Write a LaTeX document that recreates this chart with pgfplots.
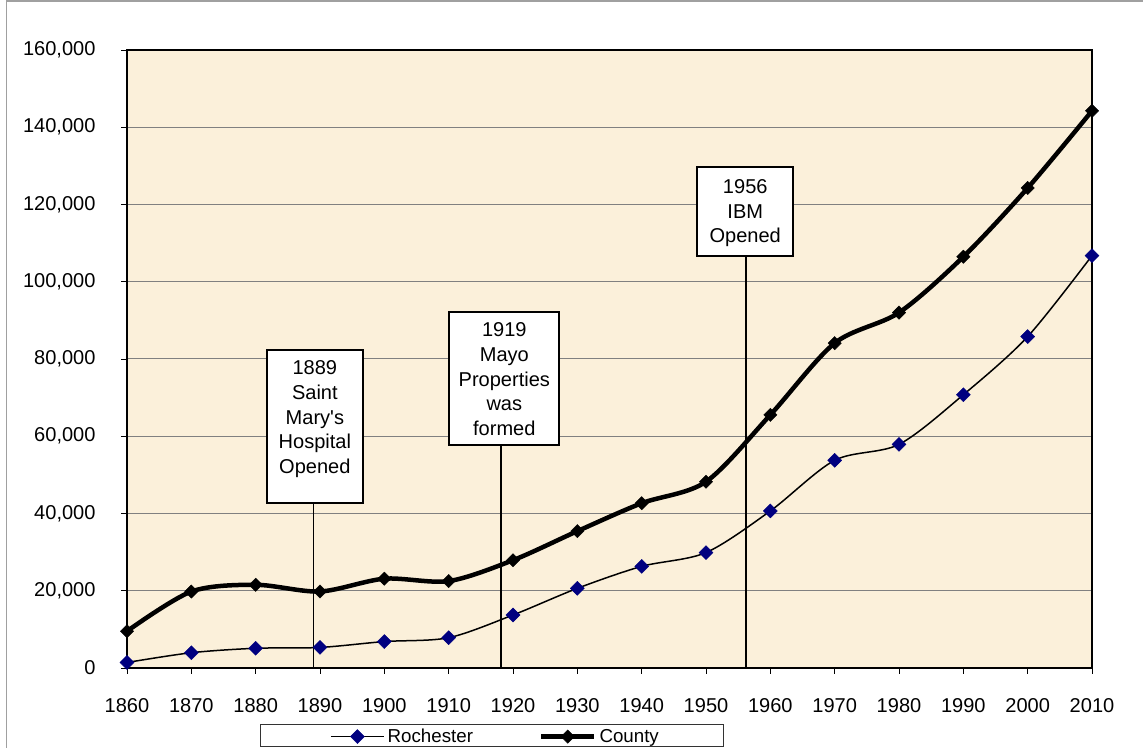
\documentclass[border=0pt]{standalone}
\usepackage{fontspec}
\setmainfont{Liberation Sans}
\usepackage{pgfplots}
\pgfplotsset{compat=1.18}
\definecolor{bgtan}{RGB}{251,240,218}
\definecolor{navyblue}{RGB}{0,0,128}
\definecolor{framegray}{RGB}{160,160,160}
\definecolor{gridgray}{RGB}{128,128,128}
\begin{document}
\begin{tikzpicture}[x=1bp,y=1bp]
\path[use as bounding box] (0,0) rectangle (1143,748);
\draw[framegray, line width=1.5bp] (6.5,-5) -- (6.5,747) -- (1150,747);
\begin{axis}[
  at={(127bp,80bp)}, anchor=south west,
  scale only axis, width=965bp, height=618bp,
  xmin=1860, xmax=2010, ymin=0, ymax=160000,
  xtick={1860,1870,...,2010},
  ytick={0,20000,...,160000},
  axis background/.style={fill=bgtan},
  axis line style={line width=2bp, black},
  ymajorgrids, grid style={gridgray, line width=1bp},
  tick align=outside, xtick pos=left, ytick pos=left,
  major tick length=6bp,
  tick style={black, line width=0.8bp},
  scaled y ticks=false,
  /pgf/number format/assume math mode=true,
  x tick label style={/pgf/number format/fixed, /pgf/number format/1000 sep={}, yshift=-21bp},
  y tick label style={/pgf/number format/fixed, /pgf/number format/1000 sep={,}, xshift=-22bp},
  tick label style={font=\fontsize{20.1}{24}\selectfont},
  clip=false,
  legend columns=2,
  legend style={at={(0.2103,-0.111)}, anchor=west, draw=none, fill=none, inner sep=0pt,
    font=\fontsize{18.8}{22}\selectfont,
    nodes={inner xsep=3bp, inner ysep=0pt, anchor=west},
    /tikz/every even column/.append style={column sep=63bp}},
  legend image code/.code={\draw[mark repeat=2,mark phase=2,#1] plot coordinates {(0bp,0bp) (26.5bp,0bp) (53bp,0bp)};},
]
\addplot[black, line width=1.5bp, smooth, tension=0.5, mark=square*, mark size=4.95bp,
  mark options={rotate=45, fill=navyblue, draw=navyblue, line width=0.4bp}]
  coordinates {(1860,1424) (1870,3953) (1880,5103) (1890,5321) (1900,6843) (1910,7844)
  (1920,13722) (1930,20621) (1940,26312) (1950,29885) (1960,40663) (1970,53766)
  (1980,57890) (1990,70745) (2000,85806) (2010,106769)};
\addlegendentry{Rochester}
\addplot[black, line width=4.5bp, smooth, tension=0.5, mark=square*, mark size=4.7bp,
  mark options={rotate=45, fill=black, draw=black, line width=0.4bp}]
  coordinates {(1860,9524) (1870,19793) (1880,21543) (1890,19806) (1900,23119) (1910,22497)
  (1920,27903) (1930,35426) (1940,42658) (1950,48228) (1960,65532) (1970,84104)
  (1980,92006) (1990,106470) (2000,124277) (2010,144248)};
\addlegendentry{County}
% annotations
\draw[line width=1.8bp] (axis cs:1889,42800) -- (axis cs:1889,0);
\draw[fill=white, line width=1.8bp] (axis cs:1881.72,82330) rectangle (axis cs:1896.73,42800);
\node[align=center, anchor=north, inner sep=0pt, font=\fontsize{20.1}{24.7}\selectfont, yshift=-10.7bp]
  at (axis cs:1889.2,82330) {1889\\Saint\\Mary\textquotesingle s\\Hospital\\Opened};
\draw[line width=1.8bp] (axis cs:1918.09,57730) -- (axis cs:1918.09,0);
\draw[fill=white, line width=1.8bp] (axis cs:1910.10,92250) rectangle (axis cs:1927.20,57730);
\node[align=center, anchor=north, inner sep=0pt, font=\fontsize{20.1}{24.7}\selectfont, yshift=-11bp]
  at (axis cs:1918.65,92250) {1919\\Mayo\\Properties\\was\\formed};
\draw[line width=1.8bp] (axis cs:1956.18,106740) -- (axis cs:1956.18,0);
\draw[fill=white, line width=1.8bp] (axis cs:1948.65,129630) rectangle (axis cs:1963.58,106740);
\node[align=center, anchor=north, inner sep=0pt, font=\fontsize{20.1}{24.7}\selectfont, yshift=-12bp]
  at (axis cs:1956.1,129630) {1956\\IBM\\Opened};
\end{axis}
\draw[line width=1bp, black!80] (260,1) rectangle (723,23);
\end{tikzpicture}
\end{document}
